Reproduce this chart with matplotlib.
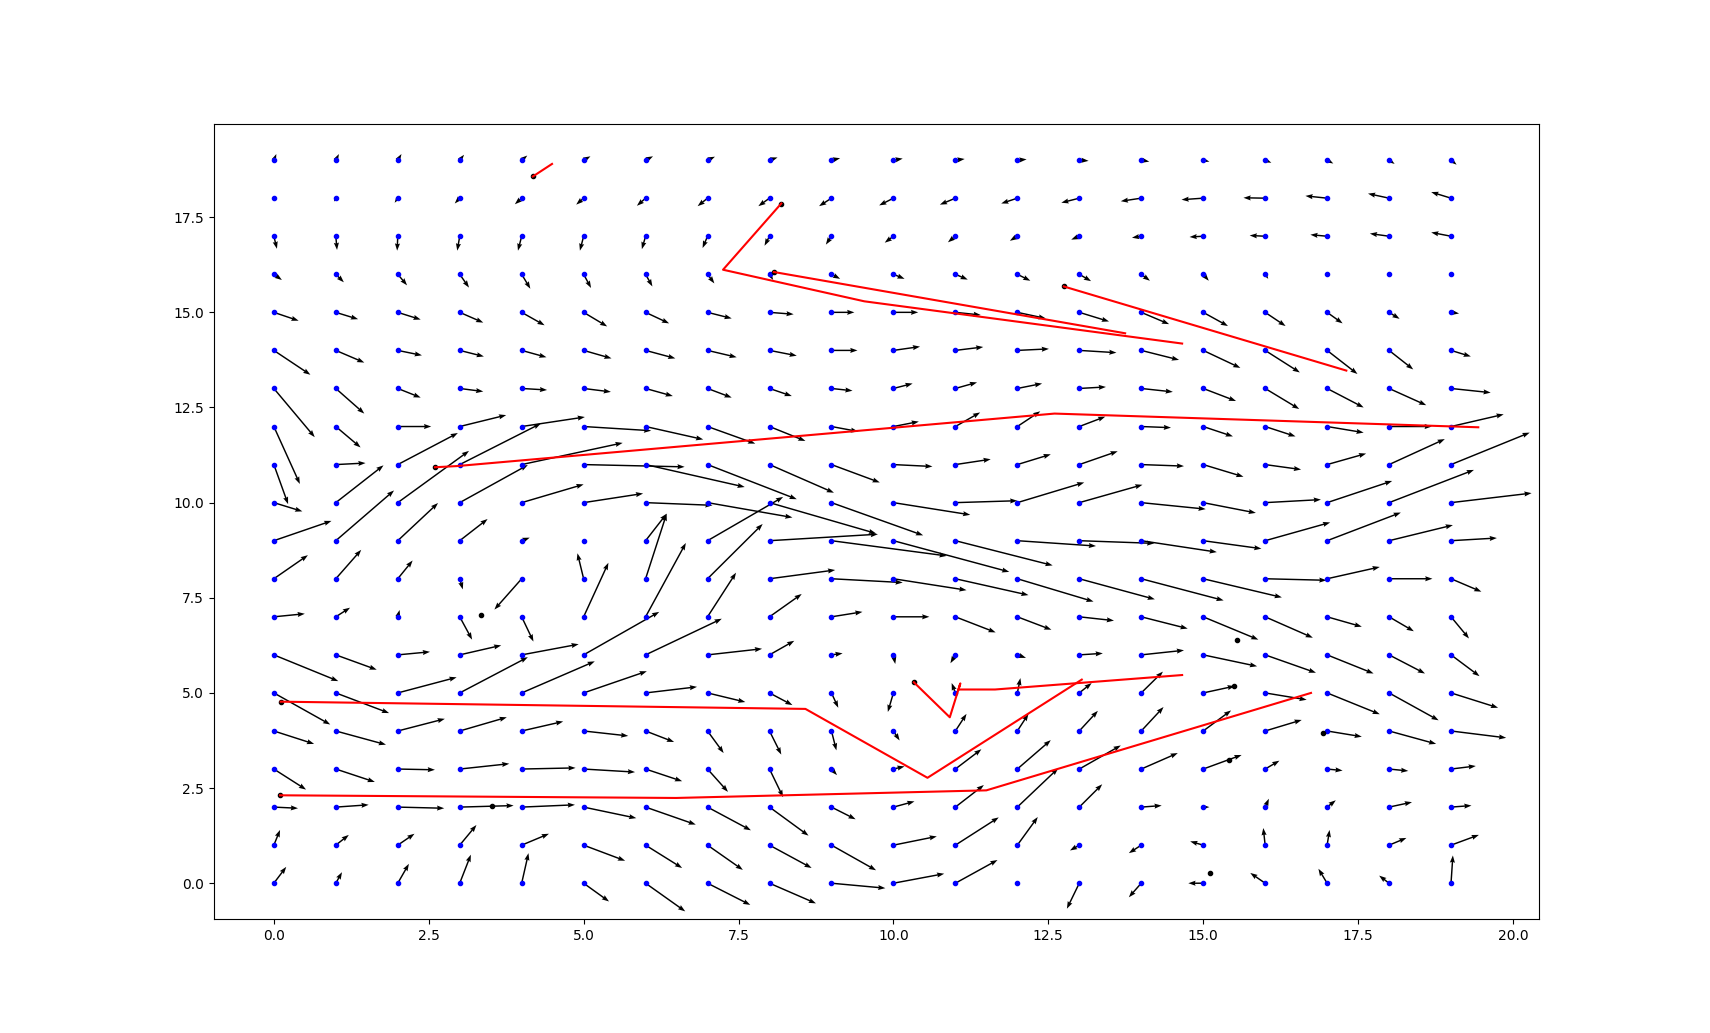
import numpy as np
from matplotlib import pyplot as plt

# grid of sample points
xs = list(range(20))
ys = list(range(20))

# field x-components, one row per y (y = 0 .. 19)
u_rows = [
    [0.20, 0.10, 0.18, 0.18, 0.11, 0.41, 0.64, 0.69, 0.75, 0.87, 0.82, 0.68, 0.00, -0.20, -0.20, -0.24, -0.24, -0.14, -0.16, 0.03],
    [0.10, 0.21, 0.27, 0.27, 0.44, 0.67, 0.59, 0.57, 0.68, 0.72, 0.70, 0.70, 0.33, -0.15, -0.20, -0.21, -0.03, 0.04, 0.28, 0.45],
    [0.39, 0.53, 0.75, 0.87, 0.86, 0.85, 0.81, 0.70, 0.63, 0.39, 0.34, 0.46, 0.66, 0.37, 0.33, 0.10, 0.06, 0.14, 0.37, 0.33],
    [0.52, 0.63, 0.60, 0.80, 0.87, 0.83, 0.59, 0.33, 0.22, 0.09, 0.18, 0.42, 0.54, 0.67, 0.59, 0.62, 0.23, 0.25, 0.31, 0.40],
    [0.65, 0.81, 0.76, 0.76, 0.67, 0.72, 0.46, 0.26, 0.19, 0.08, 0.10, 0.18, 0.18, 0.30, 0.36, 0.45, 0.59, 0.56, 0.76, 0.89],
    [0.91, 0.86, 0.95, 1.10, 1.18, 1.02, 0.83, 0.61, 0.37, 0.11, -0.09, -0.06, 0.05, 0.20, 0.35, 0.51, 0.67, 0.85, 0.80, 0.76],
    [1.04, 0.66, 0.52, 0.67, 0.92, 1.22, 1.23, 0.88, 0.40, 0.18, 0.03, -0.08, 0.14, 0.38, 0.69, 0.87, 0.82, 0.75, 0.58, 0.46],
    [0.50, 0.23, 0.03, 0.20, 0.19, 0.40, 0.65, 0.46, 0.52, 0.50, 0.58, 0.65, 0.55, 0.56, 0.75, 0.89, 0.77, 0.56, 0.40, 0.29],
    [0.55, 0.41, 0.24, 0.05, -0.44, -0.10, 0.34, 0.89, 1.06, 1.15, 1.18, 1.18, 1.23, 1.22, 1.33, 1.27, 0.99, 0.85, 0.70, 0.49],
    [0.93, 0.94, 0.65, 0.45, 0.13, 0.02, 0.34, 1.22, 1.75, 1.86, 1.87, 1.57, 1.27, 1.21, 1.22, 0.94, 1.05, 1.19, 1.03, 0.74],
    [0.46, 0.77, 1.15, 1.10, 1.00, 0.96, 1.08, 1.37, 1.72, 1.48, 1.24, 1.00, 1.08, 1.02, 1.04, 0.85, 0.90, 1.05, 1.37, 1.30],
    [0.23, 0.48, 0.97, 1.31, 1.63, 1.63, 1.60, 1.44, 1.04, 0.78, 0.63, 0.57, 0.54, 0.62, 0.69, 0.65, 0.58, 0.63, 0.90, 1.27],
    [0.42, 0.40, 0.54, 0.75, 1.02, 1.09, 0.93, 0.77, 0.58, 0.43, 0.41, 0.40, 0.37, 0.42, 0.48, 0.48, 0.49, 0.59, 0.69, 0.85],
    [0.66, 0.46, 0.37, 0.38, 0.41, 0.44, 0.44, 0.39, 0.36, 0.34, 0.31, 0.35, 0.40, 0.43, 0.51, 0.53, 0.55, 0.59, 0.60, 0.64],
    [0.59, 0.46, 0.39, 0.39, 0.40, 0.45, 0.48, 0.47, 0.44, 0.42, 0.43, 0.45, 0.51, 0.60, 0.61, 0.60, 0.56, 0.49, 0.39, 0.32],
    [0.40, 0.36, 0.37, 0.38, 0.37, 0.38, 0.38, 0.39, 0.39, 0.37, 0.40, 0.41, 0.46, 0.48, 0.45, 0.40, 0.33, 0.25, 0.17, 0.13],
    [0.13, 0.13, 0.15, 0.15, 0.14, 0.12, 0.11, 0.11, 0.06, 0.14, 0.18, 0.20, 0.21, 0.19, 0.14, 0.09, 0.05, 0.01, 0.01, 0.01],
    [0.05, 0.02, -0.01, -0.04, -0.06, -0.06, -0.06, -0.08, -0.08, -0.09, -0.14, -0.12, -0.12, -0.13, -0.15, -0.22, -0.25, -0.27, -0.31, -0.32],
    [0.00, -0.03, -0.05, -0.08, -0.11, -0.12, -0.14, -0.16, -0.18, -0.20, -0.23, -0.25, -0.26, -0.29, -0.33, -0.35, -0.35, -0.35, -0.34, -0.32],
    [0.04, 0.05, 0.06, 0.07, 0.09, 0.11, 0.12, 0.12, 0.13, 0.14, 0.15, 0.15, 0.15, 0.15, 0.13, 0.10, 0.10, 0.10, 0.09, 0.09],
]

# field y-components, same layout
v_rows = [
    [0.43, 0.29, 0.51, 0.75, 0.79, -0.48, -0.74, -0.57, -0.53, -0.13, 0.25, 0.61, 0.00, -0.67, -0.37, 0.00, 0.27, 0.38, 0.20, 0.73],
    [0.40, 0.27, 0.30, 0.53, 0.30, -0.41, -0.60, -0.65, -0.60, -0.66, 0.23, 0.73, 0.74, -0.14, -0.21, 0.10, 0.45, 0.40, 0.19, 0.27],
    [-0.03, 0.06, -0.03, 0.04, 0.06, -0.29, -0.46, -0.61, -0.75, -0.32, 0.15, 0.58, 1.02, 0.60, 0.04, 0.00, 0.22, 0.18, 0.13, 0.04],
    [-0.54, -0.34, -0.02, 0.14, 0.03, -0.08, -0.32, -0.60, -0.74, -0.16, 0.07, 0.52, 0.76, 0.62, 0.42, 0.37, 0.22, -0.04, -0.05, 0.08],
    [-0.34, -0.36, 0.32, 0.36, 0.25, -0.13, -0.29, -0.58, -0.62, -0.51, -0.25, 0.45, 0.45, 0.53, 0.63, 0.54, 0.29, -0.15, -0.34, -0.18],
    [-0.83, -0.53, 0.41, 0.94, 0.83, 0.57, 0.16, -0.24, -0.32, -0.39, -0.50, 0.26, 0.39, 0.26, 0.56, 0.18, -0.18, -0.56, -0.72, -0.39],
    [-0.69, -0.39, 0.08, 0.25, 0.28, 1.13, 0.95, 0.16, 0.37, 0.04, -0.24, -0.22, -0.08, 0.04, 0.12, -0.30, -0.47, -0.49, -0.49, -0.56],
    [0.08, 0.24, 0.18, -0.60, -0.65, 1.42, 1.94, 1.16, 0.60, 0.13, 0.00, -0.41, -0.34, -0.10, -0.31, -0.60, -0.55, -0.26, -0.38, -0.57],
    [0.62, 0.76, 0.48, -0.28, -0.81, 0.67, 1.71, 1.44, 0.23, -0.10, -0.30, -0.43, -0.60, -0.54, -0.57, -0.49, -0.04, 0.31, 0.00, -0.34],
    [0.52, 1.32, 0.99, 0.57, 0.08, 0.02, 0.71, 1.15, 0.17, -0.40, -0.82, -0.65, -0.14, -0.07, -0.30, -0.21, 0.48, 0.74, 0.41, 0.07],
    [-0.23, 0.98, 1.36, 0.99, 0.48, 0.24, -0.07, -0.39, -0.81, -0.86, -0.32, 0.05, 0.53, 0.47, -0.17, -0.27, 0.08, 0.57, 0.86, 0.25],
    [-1.04, 0.04, 0.83, 1.08, 0.57, -0.06, -0.59, -0.91, -0.74, -0.47, -0.05, 0.14, 0.27, 0.35, -0.04, -0.32, -0.13, 0.29, 0.67, 0.84],
    [-1.51, -0.55, 0.00, 0.30, 0.25, -0.11, -0.34, -0.45, -0.38, -0.13, 0.13, 0.37, 0.40, 0.26, -0.03, -0.26, -0.26, -0.16, 0.00, 0.32],
    [-1.28, -0.66, -0.24, -0.08, -0.04, -0.09, -0.20, -0.24, -0.20, -0.06, 0.13, 0.16, 0.13, 0.04, -0.09, -0.33, -0.54, -0.50, -0.44, -0.11],
    [-0.64, -0.32, -0.13, -0.16, -0.18, -0.21, -0.21, -0.18, -0.14, 0.00, 0.10, 0.09, 0.04, -0.06, -0.25, -0.46, -0.58, -0.62, -0.50, -0.16],
    [-0.22, -0.18, -0.19, -0.27, -0.34, -0.37, -0.29, -0.16, -0.05, 0.00, 0.00, -0.07, -0.16, -0.24, -0.31, -0.36, -0.36, -0.29, -0.17, -0.03],
    [-0.15, -0.21, -0.29, -0.35, -0.38, -0.36, -0.32, -0.24, -0.15, -0.12, -0.12, -0.14, -0.17, -0.18, -0.17, -0.17, -0.12, -0.01, -0.01, -0.01],
    [-0.33, -0.36, -0.38, -0.38, -0.38, -0.38, -0.34, -0.31, -0.25, -0.22, -0.17, -0.16, -0.12, -0.09, -0.04, -0.02, 0.02, 0.04, 0.07, 0.10],
    [0.00, -0.09, -0.12, -0.14, -0.16, -0.17, -0.20, -0.21, -0.21, -0.21, -0.19, -0.17, -0.14, -0.12, -0.08, -0.04, 0.01, 0.06, 0.12, 0.16],
    [0.16, 0.16, 0.16, 0.14, 0.12, 0.10, 0.10, 0.09, 0.07, 0.05, 0.04, 0.03, 0.02, -0.02, -0.04, -0.04, -0.07, -0.09, -0.10, -0.12],
]

# paths (red) and their start / resting points (black)
paths_x = [
    [4.18, 4.49],
    [8.19, 7.25, 9.53, 14.66],
    [8.07, 13.74],
    [12.75, 17.31],
    [2.60, 2.95, 12.60, 19.44],
    [0.11, 8.58, 10.55, 13.04],
    [0.10, 6.49, 11.50, 16.74],
    [10.33, 10.91, 11.08, 11.05, 11.64, 14.66],
]
paths_y = [
    [18.57, 18.90],
    [17.86, 16.12, 15.29, 14.18],
    [16.06, 14.45],
    [15.68, 13.47],
    [10.93, 10.96, 12.34, 11.98],
    [4.77, 4.58, 2.77, 5.35],
    [2.31, 2.24, 2.44, 5.00],
    [5.28, 4.36, 5.25, 5.09, 5.09, 5.47],
]

balls_x = [4.18, 8.19, 8.07, 12.75, 2.60, 3.34, 0.11, 0.10, 3.52, 10.33, 15.54, 15.50, 16.94, 15.42, 15.11]
balls_y = [18.57, 17.86, 16.06, 15.68, 10.93, 7.06, 4.77, 2.31, 2.04, 5.28, 6.38, 5.19, 3.96, 3.25, 0.28]


def main():
    X, Y = np.meshgrid(xs, ys)
    U = np.array(u_rows)
    V = np.array(v_rows)

    fig = plt.figure(figsize=(17.1, 10.33), dpi=100)
    ax = fig.add_subplot(111)

    ax.quiver(X, Y, U, V, angles='xy', scale_units='xy', scale=1,
              width=0.0011, headwidth=3.5, headlength=5, color='black')
    ax.plot(X.ravel(), Y.ravel(), 'b.')
    ax.plot(balls_x, balls_y, 'k.')
    for px, py in zip(paths_x, paths_y):
        ax.plot(px, py, color='red')

    ax.set_xlim(-0.97, 20.42)
    ax.set_ylim(-0.95, 19.95)
    fig.savefig('out.png', dpi=100)


main()
